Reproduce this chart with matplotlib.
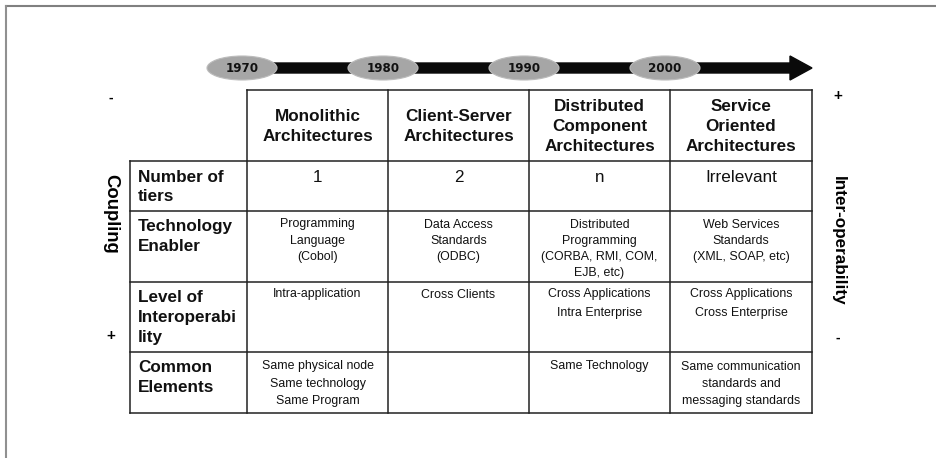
import matplotlib
matplotlib.use("Agg")
import matplotlib.pyplot as plt
from matplotlib.patches import Ellipse, FancyArrow

plt.rcParams['font.family'] = ['Liberation Sans', 'DejaVu Sans']

# ---- data ----
years = ["1970", "1980", "1990", "2000"]
columns = ["Monolithic\nArchitectures",
           "Client-Server\nArchitectures",
           "Distributed\nComponent\nArchitectures",
           "Service\nOriented\nArchitectures"]
row_labels = ["Number of\ntiers", "Technology\nEnabler",
              "Level of\nInteroperabi\nlity", "Common\nElements"]
tiers = ["1", "2", "n", "Irrelevant"]
enablers = ["Programming\nLanguage\n(Cobol)",
            "Data Access\nStandards\n(ODBC)",
            "Distributed\nProgramming\n(CORBA, RMI, COM,\nEJB, etc)",
            "Web Services\nStandards\n(XML, SOAP, etc)"]
interop = ["Intra-application", "Cross Clients",
           "Cross Applications\nIntra Enterprise",
           "Cross Applications\nCross Enterprise"]
common = ["Same physical node\nSame technology\nSame Program", "",
          "Same Technology",
          "Same communication\nstandards and\nmessaging standards"]
left_axis = ["-", "Coupling", "+"]
right_axis = ["+", "Inter-operability", "-"]

# ---- layout ----
W, H = 936, 458
fig = plt.figure(figsize=(W / 100, H / 100), dpi=100)
ax = fig.add_axes([0, 0, 1, 1])
ax.set_xlim(0, W)
ax.set_ylim(H, 0)
ax.axis("off")

# outer frame (top and left only)
ax.plot([6, W], [6, 6], color="#808080", lw=1.5)
ax.plot([6, 6], [6, H], color="#909090", lw=1.5)

col_x = [247, 388, 529, 670, 812]
label_x0 = 130
row_y = [90, 161, 211, 282, 352, 413]
lc = "#222222"
lw = 1.1
txt = "#111111"
big = 12.3
small = 8.9

# table lines
ax.plot([col_x[0], col_x[-1]], [row_y[0], row_y[0]], color=lc, lw=lw)
for y in row_y[1:]:
    ax.plot([label_x0, col_x[-1]], [y, y], color=lc, lw=lw)
ax.plot([label_x0, label_x0], [row_y[1], row_y[-1]], color=lc, lw=lw)
for x in col_x:
    ax.plot([x, x], [row_y[0], row_y[-1]], color=lc, lw=lw)

# timeline arrow
ax.add_patch(FancyArrow(262, 68, 550, 0, width=10, head_width=24,
                        head_length=22, length_includes_head=True,
                        color="#0a0a0a", zorder=2))
for i, yr in enumerate(years):
    cx = col_x[i] - 5
    ax.add_patch(Ellipse((cx, 68), 70, 24, facecolor="#a6a6a6",
                         edgecolor="#bcbcbc", lw=0.8, zorder=3))
    ax.text(cx, 69, yr, ha="center", va="center", fontsize=8.6,
            fontweight="bold", family=["DejaVu Sans"], zorder=4,
            color="#111111")

# header text
for i, c in enumerate(columns):
    cx = (col_x[i] + col_x[i + 1]) / 2
    ax.text(cx, (row_y[0] + row_y[1]) / 2 + 1, c, ha="center", va="center",
            fontsize=big, fontweight="bold", linespacing=1.42, color=txt)

# row labels
for r, lab in enumerate(row_labels):
    ax.text(label_x0 + 8, row_y[r + 1] + 8.5, lab, ha="left", va="top",
            fontsize=big, fontweight="bold", linespacing=1.38, color=txt)

# cells
for i in range(4):
    cx = (col_x[i] + col_x[i + 1]) / 2
    ax.text(cx, row_y[1] + 9, tiers[i], ha="center", va="top",
            fontsize=big, color=txt)
    ax.text(cx, row_y[2] + 7.5, enablers[i], ha="center", va="top",
            fontsize=small, linespacing=1.48, color=txt)
    ax.text(cx, row_y[3] + 6.5, interop[i], ha="center", va="top",
            fontsize=small, linespacing=1.68, color=txt)
    ax.text(cx, row_y[4] + 8.5, common[i], ha="center", va="top",
            fontsize=small, linespacing=1.6, color=txt)

# side axes labels
ax.text(111, 98, left_axis[0], ha="center", va="center", fontsize=10,
        fontweight="bold")
ax.text(111, 214, left_axis[1], ha="center", va="center", fontsize=13.3,
        fontweight="bold", rotation=-90)
ax.text(111, 336, left_axis[2], ha="center", va="center", fontsize=11,
        fontweight="bold")
ax.text(838, 96, right_axis[0], ha="center", va="center", fontsize=11,
        fontweight="bold")
ax.text(838, 241, right_axis[1], ha="center", va="center", fontsize=12.3,
        fontweight="bold", rotation=-90)
ax.text(838, 338, right_axis[2], ha="center", va="center", fontsize=10,
        fontweight="bold")

fig.savefig("out.png", dpi=100, facecolor="white")
